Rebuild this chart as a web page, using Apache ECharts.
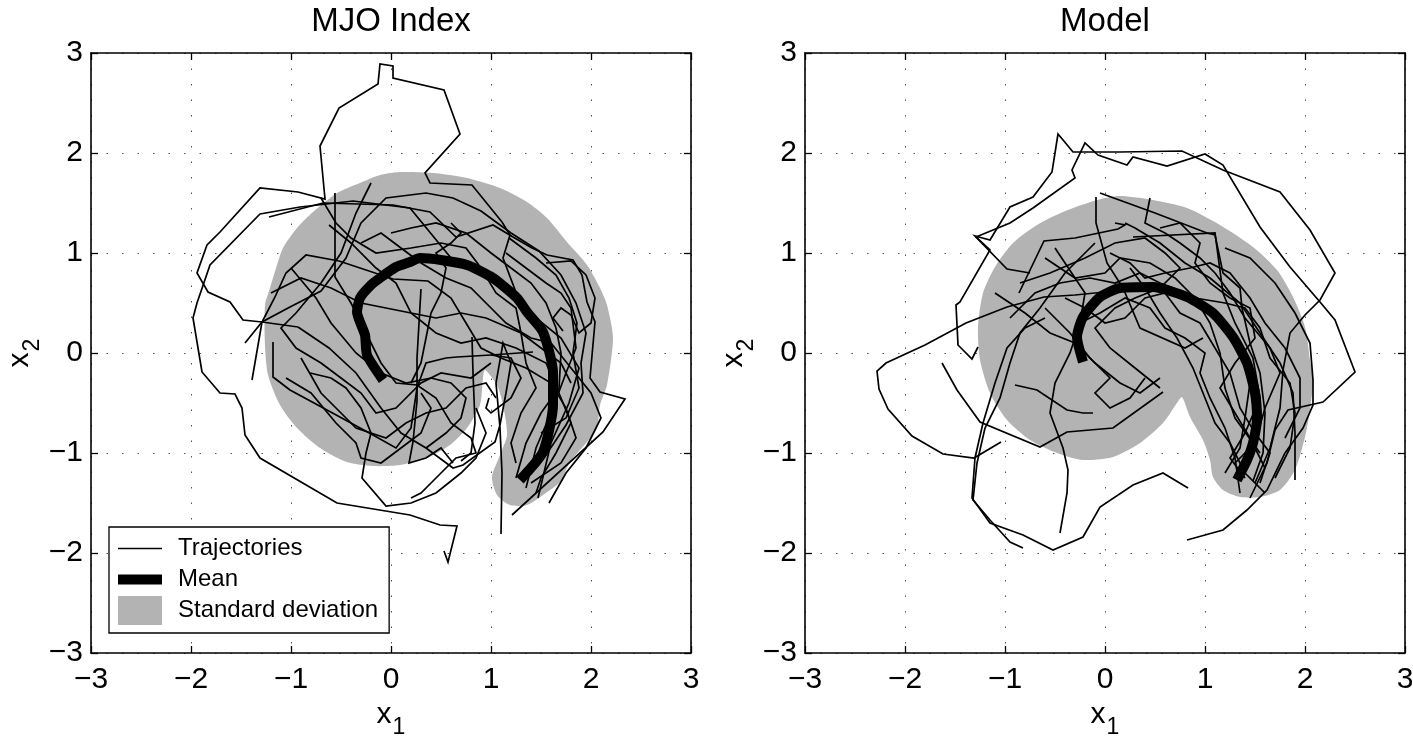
<!DOCTYPE html>
<html>
<head>
<meta charset="utf-8">
<script src="https://cdn.jsdelivr.net/npm/echarts@6/dist/echarts.min.js"></script>
<style>
html,body{margin:0;padding:0;background:#fff;}
#chart{width:1413px;height:740px;}
</style>
</head>
<body>
<div id="chart"></div>
<script>
// ---------------- DATA ----------------
const PANEL_TITLES = ['MJO Index', 'Model'];
const TICKS = [-3, -2, -1, 0, 1, 2, 3];

// Standard deviation envelopes (outline of the grey region)
const stdLeft = [[0.09,1.81],[0.42,1.80],[0.76,1.75],[1.09,1.65],[1.36,1.51],[1.56,1.35],[1.76,1.11],[1.96,0.88],[2.09,0.65],[2.16,0.48],[2.22,0.15],[2.16,-0.32],[2.09,-0.52],[2.06,-0.75],[1.96,-0.89],[1.79,-1.09],[1.69,-1.29],[1.52,-1.42],[1.36,-1.52],[1.19,-1.52],[1.06,-1.42],[1.01,-1.24],[1.09,-1.02],[1.16,-0.82],[1.12,-0.52],[1.06,-0.32],[0.94,-0.17],[0.92,-0.25],[0.89,-0.52],[0.76,-0.75],[0.59,-0.92],[0.36,-1.05],[0.09,-1.12],[-0.18,-1.13],[-0.44,-1.09],[-0.71,-0.95],[-0.94,-0.75],[-1.11,-0.52],[-1.23,-0.22],[-1.26,0.08],[-1.26,0.48],[-1.21,0.65],[-1.14,0.88],[-1.08,1.05],[-0.94,1.25],[-0.78,1.41],[-0.54,1.60],[-0.31,1.70],[-0.11,1.78]];
const stdRight = [[0.15,1.57],[0.48,1.53],[0.82,1.45],[1.15,1.28],[1.48,1.06],[1.72,0.83],[1.88,0.56],[2.00,0.26],[2.05,-0.07],[2.08,-0.27],[2.05,-0.57],[2.00,-0.84],[1.90,-1.17],[1.75,-1.37],[1.55,-1.44],[1.35,-1.44],[1.18,-1.37],[1.08,-1.24],[1.05,-1.07],[0.98,-0.87],[0.85,-0.64],[0.77,-0.44],[0.72,-0.50],[0.58,-0.70],[0.35,-0.90],[0.08,-1.04],[-0.22,-1.07],[-0.48,-1.00],[-0.75,-0.87],[-0.98,-0.67],[-1.15,-0.40],[-1.25,-0.07],[-1.27,0.26],[-1.22,0.60],[-1.10,0.86],[-0.92,1.10],[-0.68,1.28],[-0.42,1.41],[-0.08,1.53]];

// Mean trajectories
const meanLeft = [[-0.08,-0.27],[-0.24,-0.02],[-0.26,0.18],[-0.34,0.41],[-0.31,0.55],[-0.20,0.68],[-0.11,0.75],[0.05,0.86],[0.19,0.91],[0.29,0.95],[0.50,0.93],[0.76,0.88],[1.02,0.75],[1.26,0.55],[1.36,0.41],[1.52,0.21],[1.62,-0.19],[1.62,-0.52],[1.52,-0.99],[1.29,-1.27]];
const meanRight = [[-0.22,-0.09],[-0.28,0.16],[-0.22,0.36],[-0.05,0.56],[0.15,0.65],[0.48,0.66],[0.82,0.56],[1.08,0.40],[1.28,0.16],[1.42,-0.10],[1.50,-0.40],[1.52,-0.65],[1.48,-0.90],[1.42,-1.07],[1.32,-1.27]];

// Individual trajectories, MJO index panel
const trajLeft = [
 [[-0.93,0.26],[-1.29,0.31],[-1.48,0.33],[-1.61,0.51],[-1.83,0.61],[-1.94,0.80],[-1.84,1.08],[-1.71,1.21],[-1.31,1.65],[-0.93,1.61],[-0.66,1.54],[-0.71,2.07],[-0.52,2.45],[-0.13,2.69],[-0.11,2.89],[0.02,2.87],[0.02,2.75],[0.53,2.63],[0.69,2.19],[0.34,1.80],[0.39,1.70],[0.81,1.68],[1.11,1.31],[1.19,1.18],[1.12,0.95],[1.26,0.58],[1.45,0.35],[1.70,0.15],[1.88,-0.15],[1.78,-0.50],[1.60,-0.90],[1.47,-1.45]],
 [[0.60,0.95],[0.19,1.45],[-0.38,1.52],[-0.91,1.46],[-1.31,1.39],[-1.81,0.88],[-1.94,0.50],[-1.98,0.35],[-1.89,-0.19],[-1.71,-0.40],[-1.56,-0.41],[-1.49,-0.55],[-1.46,-0.82],[-1.31,-1.05],[-0.54,-1.50],[0.19,-1.62],[0.49,-1.72],[0.66,-1.73],[0.57,-2.09],[0.53,-1.98]],
 [[-1.22,1.36],[-0.68,1.50],[0.02,1.48],[0.39,1.41],[0.65,1.16],[1.02,1.28],[1.22,1.16],[1.41,1.05],[1.56,0.98],[1.82,0.93],[1.91,0.78],[1.96,0.51],[2.04,0.31],[1.99,-0.25],[2.09,-0.39],[2.34,-0.46],[2.12,-0.79],[1.21,-1.62]],
 [[-0.93,0.26],[-0.62,0.05],[-0.35,-0.20],[-0.10,-0.55],[0.10,-0.80],[0.35,-0.95],[0.62,-1.15],[0.72,-1.12],[1.04,-0.89],[1.09,-0.72],[1.15,-0.40],[1.20,-0.10],[1.12,0.10],[1.05,-0.30],[1.09,-0.75],[1.11,-1.20],[1.10,-1.81]],
 [[-1.18,0.11],[-1.18,-0.24],[-1.01,-0.37],[-0.64,-0.57],[-0.18,-0.82],[0.05,-0.95],[0.20,-0.75],[0.26,-0.35],[0.35,-0.10],[0.55,-0.05],[0.66,-0.04],[1.00,-0.02],[1.42,0.01]],
 [[-1.46,0.10],[-1.29,0.31],[-1.01,0.46],[-0.70,0.62],[-0.45,0.95],[-0.30,1.30],[-0.05,1.55],[0.35,1.60],[0.62,1.55],[0.90,1.42],[1.20,1.20],[1.48,1.02],[1.70,0.78],[1.85,0.50],[1.95,0.20],[1.90,-0.10],[1.92,-0.40],[1.75,-0.72],[1.55,-1.02],[1.38,-1.20]],
 [[-1.39,-0.27],[-1.29,0.31],[-1.16,0.56],[-1.05,0.80],[-0.85,0.98],[-0.52,0.92],[0.02,0.74],[0.37,0.72],[0.60,0.55],[0.75,0.30],[0.90,0.05],[1.10,-0.05],[1.35,-0.15],[1.60,-0.30],[1.75,-0.55],[1.85,-0.85],[1.70,-1.10],[1.40,-1.30]],
 [[-0.56,1.60],[-0.56,1.20],[-0.56,0.76],[-0.40,0.50],[-0.25,0.20],[-0.10,-0.10],[0.05,-0.30],[0.26,-0.32],[0.45,-0.45],[0.60,-0.70],[0.80,-0.85],[0.85,-1.00],[0.65,-1.05],[0.45,-1.25],[0.30,-1.40],[0.20,-1.45]],
 [[-0.81,-0.20],[-0.60,-0.25],[-0.45,-0.35],[-0.30,-0.55],[-0.20,-0.80],[-0.25,-1.00],[-0.29,-1.25],[-0.05,-1.53],[0.20,-1.50],[0.45,-1.40],[0.70,-1.20],[0.85,-1.05],[0.95,-0.80],[0.85,-0.55]],
 [[0.30,0.64],[0.28,0.30],[0.26,-0.05],[0.26,-0.48],[0.22,-0.89],[0.18,-1.10],[0.35,-1.05],[0.50,-0.95],[0.62,-1.10]],
 [[0.81,0.16],[0.82,-0.20],[0.84,-0.70],[0.80,-1.00],[0.70,-1.08]],
 [[1.15,1.00],[1.35,0.85],[1.55,0.70],[1.70,0.60],[1.80,0.45],[1.85,0.05],[1.75,-0.20],[1.60,-0.60],[1.45,-0.95],[1.35,-1.35]],
 [[1.18,1.15],[1.45,0.95],[1.65,0.78],[1.78,0.55],[1.86,0.30],[1.82,0.00],[1.88,-0.35],[1.75,-0.65],[1.50,-0.80]],
 [[1.55,0.90],[1.80,0.92],[1.95,0.78],[2.04,0.55],[2.00,0.30],[1.88,0.20],[1.80,0.38],[1.70,0.45],[1.62,0.35],[1.72,0.22]],
 [[-1.20,0.60],[-0.90,0.75],[-0.60,0.65],[-0.30,0.50],[0.10,0.42],[0.45,0.35],[0.70,0.40],[0.95,0.35],[1.30,0.20],[1.50,0.05],[1.70,-0.10],[1.80,-0.30]],
 [[-0.70,1.55],[-0.55,1.30],[-0.40,1.15],[-0.15,1.00],[0.20,1.05],[0.50,1.10],[0.75,1.05],[0.90,0.85],[1.05,0.60],[1.25,0.45],[1.30,0.20],[1.35,-0.10],[1.45,-0.35],[1.30,-0.60],[1.20,-0.90],[1.25,-1.10]],
 [[-0.20,1.70],[-0.35,1.40],[-0.50,1.00],[-0.70,0.70],[-0.95,0.40],[-1.10,0.25],[-0.95,0.05],[-0.70,-0.10],[-0.50,-0.25],[-0.30,-0.40],[-0.15,-0.60],[0.05,-0.55],[0.30,-0.30],[0.50,-0.20],[0.80,-0.25],[1.00,-0.10]],
 [[-1.05,-0.25],[-0.80,-0.40],[-0.55,-0.70],[-0.35,-0.90],[-0.30,-1.05],[-0.10,-1.10],[0.10,-0.95],[0.30,-0.80],[0.40,-0.55],[0.30,-0.40]],
 [[0.60,1.30],[0.70,1.20],[0.60,1.10],[0.45,1.00],[0.55,0.85],[0.50,0.60],[0.40,0.40],[0.35,0.15],[0.30,-0.10],[0.20,-0.30]],
 [[1.00,-0.02],[1.20,-0.05],[1.30,-0.25],[1.20,-0.45],[1.00,-0.60],[0.95,-0.55],[0.98,-0.45]],
 [[-0.62,1.28],[-0.40,1.10],[-0.15,0.85],[0.05,0.70],[0.20,0.40],[0.45,0.20],[0.70,0.10],[0.95,0.15],[1.25,0.05],[1.55,-0.10],[1.70,-0.45],[1.80,-0.70],[1.65,-1.00],[1.50,-1.25],[1.45,-1.40]],
 [[-1.00,0.85],[-0.75,0.55],[-0.60,0.30],[-0.35,0.00],[-0.10,-0.20],[0.15,-0.30],[0.40,-0.25],[0.60,-0.30],[0.75,-0.45],[0.70,-0.65],[0.55,-0.80],[0.35,-0.95]],
 [[0.00,1.20],[0.20,1.25],[0.45,1.30],[0.75,1.20],[1.00,1.00],[1.20,0.85],[1.40,0.70],[1.55,0.50],[1.65,0.25],[1.70,0.00],[1.68,-0.35],[1.50,-0.60],[1.35,-0.90],[1.25,-1.25]],
 [[-0.90,-0.05],[-0.70,-0.40],[-0.50,-0.60],[-0.35,-0.75],[-0.05,-0.85],[0.15,-0.70],[0.35,-0.60],[0.55,-0.55],[0.75,-0.35],[0.95,-0.30],[1.05,-0.45]],
 [[-0.30,1.10],[-0.10,1.20],[0.10,1.05],[0.30,0.90],[0.55,0.75],[0.80,0.65],[1.00,0.45],[1.15,0.30],[1.40,0.15],[1.60,0.10],[1.80,-0.15],[2.00,-0.40],[2.10,-0.65],[1.95,-0.95],[1.75,-1.20],[1.58,-1.50]]
];

// Individual trajectories, model panel
const trajRight = [
 [[-1.27,0.06],[-1.33,-0.06],[-1.47,0.08],[-1.49,0.48],[-1.45,0.51],[-1.15,1.03],[-1.30,1.17],[-1.15,1.13],[-0.95,1.46],[-0.72,1.56],[-0.53,1.81],[-0.47,2.19],[-0.32,2.01],[-0.07,2.01],[0.15,2.01],[0.77,2.02],[1.18,1.83],[1.75,1.61],[2.05,1.23],[2.30,0.80],[2.15,0.53],[2.00,0.38],[1.85,0.20],[1.78,-0.17],[1.75,-0.55],[1.65,-0.95],[1.50,-1.30]],
 [[-0.75,0.80],[-0.98,0.84],[-1.29,1.16],[-0.95,1.30],[-0.72,1.45],[-0.30,1.75],[-0.33,1.83],[-0.20,2.10],[-0.07,1.98],[0.22,1.88],[0.28,1.96],[0.62,1.87],[1.00,1.99],[1.18,1.88],[1.55,1.26],[1.85,0.86],[2.15,0.51],[2.30,0.33],[2.50,-0.19],[2.18,-0.49],[1.83,-0.57],[1.70,-0.77],[1.62,-1.10],[1.45,-1.45]],
 [[0.10,0.62],[-0.30,0.58],[-0.61,0.56],[-0.98,0.46],[-1.39,0.30],[-1.80,0.08],[-2.19,-0.10],[-2.28,-0.18],[-2.26,-0.36],[-2.17,-0.56],[-1.93,-0.83],[-1.62,-1.01],[-1.31,-1.05],[-1.04,-0.89]],
 [[0.83,-1.35],[0.58,-1.20],[0.28,-1.32],[-0.05,-1.54],[-0.22,-1.84],[-0.52,-1.97],[-0.82,-1.82],[-1.15,-1.70],[-1.33,-1.45],[-1.30,-1.05],[-1.22,-0.70],[-1.10,-0.30],[-0.98,0.05],[-0.80,0.25],[-0.60,0.35]],
 [[-0.82,-1.95],[-0.95,-1.89],[-1.15,-1.67],[-1.32,-1.47],[-1.28,-1.10],[-1.20,-0.75],[-1.05,-0.45],[-0.95,-0.10],[-0.85,0.20],[-0.65,0.45],[-0.40,0.80],[-0.10,1.10]],
 [[-0.45,-1.80],[-0.38,-1.40],[-0.37,-1.17],[-0.42,-0.95],[-0.55,-0.60],[-0.50,-0.30],[-0.35,0.00],[-0.25,0.30],[-0.10,0.45]],
 [[-1.63,-0.10],[-1.48,-0.37],[-1.25,-0.69],[-0.65,-0.94],[-0.38,-0.79],[0.08,-0.75],[0.58,-0.39]],
 [[0.82,-1.87],[1.18,-1.77],[1.42,-1.57],[1.62,-1.37],[1.80,-1.00],[1.98,-0.75],[2.08,-0.52],[2.08,-0.27],[2.05,0.10],[1.90,0.40],[1.70,0.70],[1.45,0.95],[1.20,1.05]],
 [[1.90,-1.27],[1.90,-0.80],[1.88,-0.40],[1.75,-0.10],[1.55,0.20],[1.35,0.50],[1.05,0.75],[0.80,0.90],[0.55,1.10],[0.30,1.25],[0.20,1.30]],
 [[-0.90,-0.32],[-0.68,-0.37],[-0.38,-0.57],[-0.22,-0.60],[-0.12,-0.60]],
 [[-0.09,1.56],[-0.09,1.30],[0.02,0.90],[0.18,0.65],[0.35,0.25],[0.80,0.05],[0.98,0.15]],
 [[-0.05,1.60],[0.50,1.40],[1.02,1.20],[1.10,1.18],[1.18,0.80],[1.35,0.65],[1.37,0.45],[1.45,0.10],[1.55,-0.20],[1.60,-0.60],[1.58,-1.00],[1.48,-1.28]],
 [[0.28,1.16],[1.10,1.20],[1.18,0.60],[1.30,0.30],[1.48,-0.05],[1.55,-0.45],[1.40,-0.80],[1.25,-1.05],[1.40,-1.25]],
 [[-0.60,0.95],[-0.30,0.75],[0.00,0.80],[0.15,0.95],[0.45,0.90],[0.70,0.75],[0.90,0.55],[1.05,0.30],[1.15,0.00],[1.20,-0.35],[1.30,-0.65],[1.55,-1.00]],
 [[-0.85,0.70],[-0.55,0.80],[-0.20,0.95],[0.10,1.10],[0.40,1.15],[0.60,1.00],[0.75,0.85],[0.55,0.65],[0.30,0.55],[0.10,0.45],[-0.10,0.25],[0.05,0.05],[0.30,-0.15],[0.55,-0.35]],
 [[-0.50,1.05],[-0.20,0.60],[-0.25,0.30],[-0.05,0.40],[0.20,0.55],[0.45,0.45],[0.60,0.25],[0.80,0.15],[1.00,0.00],[0.95,-0.20],[1.05,-0.45],[1.20,-0.75],[1.30,-1.05],[1.35,-1.40]],
 [[0.25,0.85],[0.40,0.65],[0.55,0.40],[0.72,0.15],[0.88,-0.15],[1.00,-0.45],[1.10,-0.70],[1.25,-0.90],[1.40,-1.20],[1.60,-1.40]],
 [[-0.60,0.45],[-0.35,0.20],[-0.15,-0.05],[0.05,-0.25],[-0.10,-0.40],[0.05,-0.55],[0.25,-0.45],[0.40,-0.25]],
 [[0.45,1.55],[0.40,1.30],[0.60,1.20],[0.75,1.10],[0.95,0.95],[1.10,0.80],[1.25,0.60],[1.40,0.35],[1.65,0.05],[1.75,-0.20],[1.60,-0.55],[1.50,-0.90],[1.30,-1.10]],
 [[0.90,0.55],[1.20,0.50],[1.40,0.45],[1.55,0.25],[1.65,-0.05],[1.85,-0.30],[1.90,-0.60],[1.85,-0.95],[1.70,-1.25]],
 [[-0.86,0.60],[-0.61,1.12],[-0.30,1.15],[0.13,1.24],[0.20,1.28],[0.10,1.30]],
 [[-0.95,0.35],[-0.70,0.60],[-0.45,0.70],[-0.15,0.75],[0.10,0.70],[0.35,0.80],[0.55,0.70],[0.80,0.60],[1.00,0.45],[1.20,0.25],[1.35,0.00],[1.45,-0.30],[1.40,-0.65],[1.35,-0.95],[1.20,-1.20]],
 [[-0.40,0.55],[-0.20,0.45],[0.00,0.30],[0.20,0.35],[0.40,0.55],[0.60,0.60],[0.75,0.40],[0.95,0.30],[1.10,0.05],[1.25,-0.20],[1.35,-0.55],[1.50,-0.80],[1.65,-1.00],[1.55,-1.30]],
 [[-1.10,0.60],[-0.80,0.40],[-0.55,0.20],[-0.30,0.10],[-0.10,-0.10],[0.15,-0.30],[0.35,-0.40],[0.55,-0.25]],
 [[0.05,1.00],[0.25,0.90],[0.40,0.75],[0.60,0.80],[0.85,0.85],[1.05,0.90],[1.25,0.80],[1.45,0.55],[1.60,0.30],[1.80,0.05],[1.95,-0.25],[1.95,-0.55],[1.80,-0.85]],
 [[0.55,1.25],[0.75,1.30],[0.95,1.10],[0.90,0.90],[1.05,0.70],[1.25,0.55],[1.45,0.45],[1.50,0.15],[1.30,-0.10],[1.15,-0.35],[1.30,-0.60],[1.45,-0.85],[1.60,-1.15]]
];

// ---------------- CHART ----------------
const FONT = '"Liberation Sans", Arial, Helvetica, sans-serif';
const TICK_FS = 30, TITLE_FS = 33, NAME_FS = 30;
const fmt = v => (v < 0 ? '\u2212' + Math.abs(v) : String(v));
const GRIDS = [{left: 91, top: 53, width: 600, height: 600}, {left: 805, top: 53, width: 600, height: 600}];

const chart = echarts.init(document.getElementById('chart'), null, {renderer: 'canvas'});

const xAxes = [], yAxes = [], series = [];
const subRich = {
  x: {fontSize: NAME_FS, fontFamily: FONT, color: '#000', verticalAlign: 'top', lineHeight: NAME_FS},
  s: {fontSize: 23, fontFamily: FONT, color: '#000', verticalAlign: 'top', lineHeight: 23, padding: [16, 0, 0, 1]}
};
GRIDS.forEach((g, i) => {
  const common = {
    gridIndex: i, type: 'value', min: TICKS[0], max: TICKS[TICKS.length - 1], interval: 1,
    axisLine: {show: true, onZero: false, lineStyle: {color: '#000', width: 1.6}},
    axisTick: {show: true, inside: true, length: 7, lineStyle: {color: '#000', width: 1.3}}
  };
  xAxes.push(Object.assign({}, common, {
    position: 'bottom',
    axisLabel: {fontSize: TICK_FS, fontFamily: FONT, color: '#000', margin: 12, formatter: fmt},
    splitLine: {show: true, lineStyle: {color: '#555', width: 1, type: [1.5, 14]}},
    name: '{x|x}{s|1}', nameLocation: 'middle', nameGap: 47,
    nameTextStyle: {rich: subRich}
  }));
  xAxes.push(Object.assign({}, common, {position: 'top', axisLabel: {show: false}, splitLine: {show: false}}));
  yAxes.push(Object.assign({}, common, {
    position: 'left',
    axisLabel: {fontSize: TICK_FS, fontFamily: FONT, color: '#000', margin: 8, formatter: fmt},
    splitLine: {show: true, lineStyle: {color: '#555', width: 1, type: [1.5, 14]}},
    name: '{x|x}{s|2}', nameLocation: 'middle', nameGap: 56, nameRotate: 90,
    nameTextStyle: {rich: subRich}
  }));
  yAxes.push(Object.assign({}, common, {position: 'right', axisLabel: {show: false}, splitLine: {show: false}}));

  const stdPts = i === 0 ? stdLeft : stdRight;
  const meanPts = i === 0 ? meanLeft : meanRight;
  const trajs = i === 0 ? trajLeft : trajRight;
  const xi = i * 2, yi = i * 2;

  series.push({
    type: 'custom', name: 'Standard deviation', xAxisIndex: xi, yAxisIndex: yi, z: 1, silent: true,
    itemStyle: {color: '#b3b3b3'},
    data: stdPts,
    renderItem: function (params, api) {
      if (params.dataIndex !== 0) return null;
      const pts = stdPts.map(p => api.coord(p));
      return {type: 'polygon', shape: {points: pts, smooth: 0.25}, style: {fill: '#b3b3b3', stroke: null}};
    }
  });
  trajs.forEach(t => {
    series.push({
      type: 'line', name: 'Trajectories', xAxisIndex: xi, yAxisIndex: yi, z: 2, silent: true,
      data: t, symbol: 'none', animation: false,
      itemStyle: {color: '#000'},
      lineStyle: {color: '#000', width: 1.7, join: 'miter'}
    });
  });
  series.push({
    type: 'line', name: 'Mean', xAxisIndex: xi, yAxisIndex: yi, z: 3, silent: true,
    data: meanPts, symbol: 'none', smooth: 0.2,
    itemStyle: {color: '#000'},
    lineStyle: {color: '#000', width: 10, cap: 'butt', join: 'round'}
  });
});

chart.setOption({
  animation: false,
  backgroundColor: '#fff',
  textStyle: {fontFamily: FONT},
  title: PANEL_TITLES.map((t, i) => ({
    text: t, left: GRIDS[i].left + GRIDS[i].width / 2, textAlign: 'center', top: 5, padding: 0,
    textStyle: {fontSize: TITLE_FS, fontWeight: 'normal', color: '#000', fontFamily: FONT}
  })),
  legend: {
    left: 109, top: 527, orient: 'vertical',
    itemWidth: 44, itemHeight: 29, itemGap: 2,
    padding: [7, 11, 8, 9],
    backgroundColor: '#fff', borderColor: '#000', borderWidth: 1.3, borderRadius: 0,
    selectedMode: false, symbolKeepAspect: true,
    textStyle: {fontSize: 24, lineHeight: 29, color: '#000', fontFamily: FONT, padding: [0, 0, 0, 11]},
    data: [
      {name: 'Trajectories', icon: 'path://M0,0 L44,0 L44,1.6 L0,1.6 Z', itemStyle: {color: '#000', borderWidth: 0}},
      {name: 'Mean', icon: 'path://M0,0 L44,0 L44,10 L0,10 Z', itemStyle: {color: '#000', borderWidth: 0}},
      {name: 'Standard deviation', icon: 'rect', itemStyle: {color: '#b3b3b3', borderWidth: 0}}
    ]
  },
  grid: GRIDS.map(g => Object.assign({containLabel: false, outerBoundsMode: 'none'}, g)),
  xAxis: xAxes,
  yAxis: yAxes,
  series: series
});
</script>
</body>
</html>
